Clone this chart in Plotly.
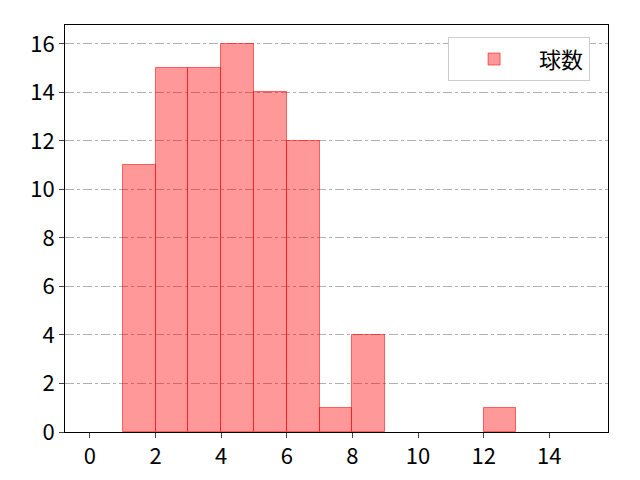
import plotly.graph_objects as go

bin_left = [1, 2, 3, 4, 5, 6, 7, 8, 12]
counts = [11, 15, 15, 16, 14, 12, 1, 4, 1]
series_name = "球数"
x_ticks = [0, 2, 4, 6, 8, 10, 12, 14]
y_ticks = [0, 2, 4, 6, 8, 10, 12, 14, 16]

fig = go.Figure()
fig.add_trace(go.Bar(
    x=[b + 0.5 for b in bin_left], y=counts, width=1,
    name=series_name,
    marker=dict(color="rgba(255,0,0,0.4)", line=dict(color="rgba(255,0,0,0.55)", width=1)),
    showlegend=True,
))

font = "Noto Sans CJK JP, DejaVu Sans, sans-serif"
fig.update_layout(
    width=640, height=480,
    margin=dict(l=65, r=32, t=25, b=48),
    paper_bgcolor="white", plot_bgcolor="white",
    font=dict(family=font, size=22, color="black"),
    bargap=0,
    showlegend=True,
    legend=dict(x=0.967, y=0.97, xanchor="right", yanchor="top",
                bgcolor="white", bordercolor="#cccccc", borderwidth=1,
                itemwidth=80, font=dict(size=22)),
    xaxis=dict(range=[-0.76, 15.79], tickvals=x_ticks, ticks="outside", ticklen=5,
               showline=True, linecolor="black", linewidth=1, mirror=True,
               showgrid=False, zeroline=False, automargin=False),
    yaxis=dict(range=[0, 16.78], tickvals=y_ticks, ticks="outside", ticklen=5,
               showline=True, linecolor="black", linewidth=1, mirror=True,
               showgrid=True, gridcolor="#b0b0b0", griddash="dashdot", gridwidth=1,
               zeroline=False, automargin=False),
)
fig.write_html("out.html", post_script="document.body.style.margin='0';",
               config={"displayModeBar": False})
